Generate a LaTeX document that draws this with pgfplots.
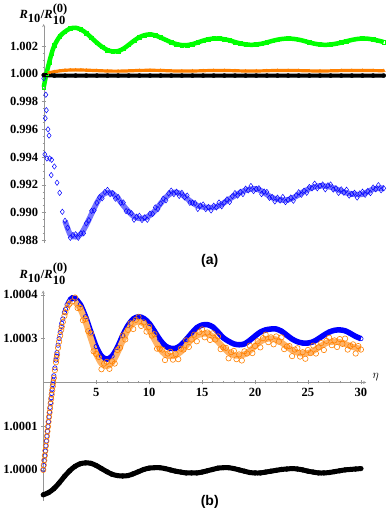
\documentclass[border=0pt]{standalone}
\usepackage{fontspec}
\setmainfont{Liberation Serif}
\setsansfont{Liberation Sans}
\usepackage{pgfplots}
\usepackage{pgfplotstable}
\pgfplotsset{compat=1.18}

\definecolor{mgreen}{RGB}{0,255,0}
\definecolor{morange}{RGB}{255,128,0}
\definecolor{mblue}{RGB}{0,0,255}
\definecolor{axgray}{RGB}{150,150,150}

% panel (a): y = (R10/R10^(0) - 1) * 1e3
\pgfplotstableread{
eta dR
0 -0.95
0.25 0.0
0.5 0.8
0.75 1.5
1.0 2.05
1.5 2.7
2.0 3.05
2.5 3.28
3.0 3.33
3.5 3.2
4.0 2.95
4.5 2.6
5.0 2.25
5.5 1.95
6.0 1.72
6.5 1.62
7.0 1.65
7.5 1.82
8.0 2.1
8.5 2.4
9.0 2.65
9.5 2.8
10.0 2.85
10.5 2.78
11.0 2.62
11.5 2.45
12.0 2.28
12.5 2.15
13.0 2.08
13.5 2.08
14.0 2.15
14.5 2.27
15.0 2.4
15.5 2.5
16.0 2.55
16.5 2.55
17.0 2.5
17.5 2.42
18.0 2.3
18.5 2.2
19.0 2.13
19.5 2.1
20.0 2.12
20.5 2.18
21.0 2.27
21.5 2.38
22.0 2.47
22.5 2.53
23.0 2.55
23.5 2.53
24.0 2.47
24.5 2.38
25.0 2.27
25.5 2.18
26.0 2.12
26.5 2.1
27.0 2.12
27.5 2.18
28.0 2.26
28.5 2.36
29.0 2.45
29.5 2.52
30.0 2.55
30.5 2.54
31.0 2.48
31.5 2.4
32.0 2.3
}\greenA

\pgfplotstableread{
eta dR
0 -0.05
0.5 0.08
1.0 0.16
1.5 0.22
2.0 0.26
2.5 0.28
3.0 0.29
3.5 0.28
4.0 0.27
5.0 0.24
6.0 0.21
7.0 0.2
8.0 0.22
9.0 0.25
10.0 0.26
11.0 0.25
12.0 0.22
13.0 0.21
14.0 0.21
15.0 0.23
16.0 0.25
17.0 0.25
18.0 0.23
19.0 0.21
20.0 0.21
21.0 0.23
22.0 0.25
23.0 0.25
24.0 0.24
25.0 0.22
26.0 0.21
27.0 0.22
28.0 0.24
29.0 0.25
30.0 0.25
31.0 0.24
32.0 0.23
}\orangeA

\pgfplotstableread{
eta dR
0 -0.08
1 -0.12
2 -0.13
3 -0.12
4 -0.12
5 -0.12
6 -0.12
7 -0.12
8 -0.12
9 -0.12
10 -0.12
11 -0.12
12 -0.12
13 -0.12
14 -0.12
15 -0.12
16 -0.12
17 -0.12
18 -0.12
19 -0.12
20 -0.12
21 -0.12
22 -0.12
23 -0.12
24 -0.12
25 -0.12
26 -0.12
27 -0.12
28 -0.12
29 -0.12
30 -0.12
31 -0.12
32 -0.12
}\blackA

\pgfplotstableread{
eta dR
0 -0.32
0.1 -5.8
0.15 -3.2
0.2 -1.5
0.25 -2.62
0.3 -6.1
0.4 -4.0
0.5 -4.45
0.55 -6.1
0.7 -7.3
0.75 -6.2
1.0 -6.68
1.25 -7.85
1.5 -8.58
1.75 -9.95
2.0 -10.6
2.25 -11.1
2.5 -11.82
2.75 -11.62
3.0 -11.57
3.25 -11.82
3.5 -11.5
3.75 -11.5
4.0 -10.78
4.25 -10.55
4.5 -9.88
4.75 -9.85
5.0 -9.3
5.25 -8.9
5.5 -8.97
5.75 -8.52
6.0 -8.37
6.25 -8.67
6.5 -8.6
6.75 -9.0
7.0 -8.88
7.25 -9.3
7.5 -9.28
7.75 -9.9
8.0 -9.95
8.25 -10.05
8.5 -10.52
8.75 -10.3
9.0 -10.24
9.25 -10.54
9.5 -10.35
9.75 -10.52
10.0 -10.08
10.25 -10.1
10.5 -9.63
10.75 -9.75
11.0 -9.35
11.25 -9.0
11.5 -9.12
11.75 -8.62
12.0 -8.42
12.25 -8.67
12.5 -8.5
12.75 -8.8
13.0 -8.58
13.25 -8.9
13.5 -8.78
13.75 -9.3
14.0 -9.3
14.25 -9.32
14.5 -9.74
14.75 -9.5
15.0 -9.42
15.25 -9.75
15.5 -9.6
15.75 -9.85
16.0 -9.51
16.25 -9.63
16.5 -9.28
16.75 -9.55
17.0 -9.28
17.25 -9.05
17.5 -9.24
17.75 -8.82
18.0 -8.6
18.25 -8.78
18.5 -8.51
18.75 -8.67
19.0 -8.28
19.25 -8.4
19.5 -8.09
19.75 -8.45
20.0 -8.3
20.25 -8.25
20.5 -8.67
20.75 -8.49
21.0 -8.52
21.25 -8.94
21.5 -8.88
21.75 -9.2
22.0 -8.93
22.25 -9.13
22.5 -8.88
22.75 -9.25
23.0 -9.08
23.25 -8.92
23.5 -9.15
23.75 -8.75
24.0 -8.54
24.25 -8.72
24.5 -8.43
24.75 -8.57
25.0 -8.16
25.25 -8.25
25.5 -7.92
25.75 -8.25
26.0 -8.08
26.25 -7.98
26.5 -8.32
26.75 -8.04
27.0 -7.98
27.25 -8.34
27.5 -8.25
27.75 -8.58
28.0 -8.33
28.25 -8.57
28.5 -8.36
28.75 -8.78
29.0 -8.66
29.25 -8.58
29.5 -8.92
29.75 -8.62
30.0 -8.5
30.25 -8.72
30.5 -8.45
30.75 -8.6
31.0 -8.2
31.25 -8.32
31.5 -8.03
31.75 -8.39
32.0 -8.25
}\blueA

% smooth centre of the blue band in (a)
\pgfplotstableread{
eta dR
2.0 -10.6
2.5 -11.6
3.0 -11.75
3.5 -11.55
4.0 -10.9
4.5 -10.1
5.0 -9.3
5.5 -8.75
6.0 -8.55
6.5 -8.65
7.0 -9.0
7.5 -9.5
8.0 -9.95
8.5 -10.3
9.0 -10.42
9.5 -10.4
10.0 -10.2
10.5 -9.85
11.0 -9.35
11.5 -8.9
12.0 -8.6
12.5 -8.55
13.0 -8.7
13.5 -9.0
14.0 -9.3
14.5 -9.52
15.0 -9.6
15.5 -9.65
16.0 -9.63
16.5 -9.5
17.0 -9.28
17.5 -9.02
18.0 -8.78
18.5 -8.56
19.0 -8.4
19.5 -8.31
20.0 -8.3
20.5 -8.45
21.0 -8.7
21.5 -8.93
22.0 -9.05
22.5 -9.1
23.0 -9.08
23.5 -8.93
24.0 -8.72
24.5 -8.48
25.0 -8.28
25.5 -8.14
26.0 -8.08
26.5 -8.1
27.0 -8.16
27.5 -8.3
28.0 -8.45
28.5 -8.58
29.0 -8.66
29.5 -8.7
30.0 -8.68
30.5 -8.5
31.0 -8.32
31.5 -8.25
32.0 -8.25
}\blueAc

% panel (b): y = (R10/R10^(0) - 1) * 1e4
\pgfplotstableread{
eta dR
0 0.0
0.05 0.11
0.1 0.22
0.15 0.33
0.2 0.44
0.25 0.55
0.3 0.66
0.35 0.77
0.4 0.88
0.45 0.99
0.5 1.1
0.55 1.21
0.6 1.31
0.65 1.41
0.7 1.52
0.75 1.62
0.8 1.72
0.85 1.82
0.9 1.91
0.95 2.0
1.0 2.1
1.1 2.28
1.2 2.46
1.25 2.55
1.3 2.63
1.4 2.79
1.5 2.93
1.6 3.07
1.7 3.2
1.75 3.27
1.85 3.38
2.0 3.52
2.1 3.6
2.25 3.7
2.4 3.77
2.5 3.8
2.75 3.85
3.0 3.94
3.25 3.70
3.5 3.71
3.75 3.42
4.0 3.45
4.25 3.17
4.5 3.12
4.75 2.71
5.0 2.65
5.25 2.58
5.5 2.30
5.75 2.43
6.0 2.47
6.25 2.31
6.5 2.48
6.75 2.43
7.0 2.74
7.25 2.79
7.5 3.07
7.75 2.98
8.0 3.2
8.25 3.35
8.5 3.22
8.75 3.43
9.0 3.49
9.25 3.29
9.5 3.37
9.75 3.16
10.0 3.27
10.25 3.07
10.5 3.10
10.75 2.77
11.0 2.77
11.25 2.75
11.5 2.51
11.75 2.66
12.0 2.70
12.25 2.52
12.5 2.65
12.75 2.53
13.0 2.77
13.25 2.75
13.5 2.96
13.75 2.81
14.0 2.98
14.25 3.09
14.5 2.94
14.75 3.15
15.0 3.21
15.25 3.03
15.5 3.14
15.75 2.97
16.0 3.12
16.25 2.98
16.5 3.05
16.75 2.76
17.0 2.8
17.25 2.79
17.5 2.55
17.75 2.69
18.0 2.72
18.25 2.53
18.5 2.64
18.75 2.50
19.0 2.71
19.25 2.66
19.5 2.84
19.75 2.67
20.0 2.83
20.25 2.94
20.5 2.80
20.75 3.01
21.0 3.09
21.25 2.92
21.5 3.03
21.75 2.87
22.0 3.05
22.25 2.93
22.5 3.03
22.75 2.76
23.0 2.82
23.25 2.83
23.5 2.60
23.75 2.75
24.0 2.78
24.25 2.59
24.5 2.69
24.75 2.54
25.0 2.74
25.25 2.67
25.5 2.84
25.75 2.66
26.0 2.8
26.25 2.90
26.5 2.74
26.75 2.95
27.0 3.02
27.25 2.85
27.5 2.96
27.75 2.81
28.0 2.99
28.25 2.88
28.5 3.00
28.75 2.75
29.0 2.83
29.25 2.87
29.5 2.66
29.75 2.83
30.0 2.75
}\orangeB

% smooth centre of the orange band in (b)
\pgfplotstableread{
eta dR
3.0 3.84
3.5 3.68
4.0 3.38
4.5 3.0
5.0 2.65
5.5 2.43
6.0 2.37
6.5 2.45
7.0 2.67
7.5 2.95
8.0 3.2
8.5 3.35
9.0 3.39
9.5 3.34
10.0 3.2
10.5 2.98
11.0 2.77
11.5 2.64
12.0 2.6
12.5 2.62
13.0 2.7
13.5 2.84
14.0 2.98
14.5 3.07
15.0 3.11
15.5 3.11
16.0 3.05
16.5 2.93
17.0 2.8
17.5 2.68
18.0 2.62
18.5 2.61
19.0 2.64
19.5 2.72
20.0 2.83
20.5 2.93
21.0 2.99
21.5 3.0
22.0 2.98
22.5 2.91
23.0 2.82
23.5 2.73
24.0 2.68
24.5 2.66
25.0 2.67
25.5 2.72
26.0 2.8
26.5 2.87
27.0 2.92
27.5 2.93
28.0 2.92
28.5 2.88
29.0 2.83
29.5 2.79
30.0 2.77
}\orangeBc

\pgfplotstableread{
eta dR
0 0.0
0.05 0.1
0.1 0.21
0.15 0.32
0.2 0.43
0.25 0.55
0.3 0.66
0.35 0.77
0.4 0.88
0.45 0.99
0.5 1.1
0.55 1.21
0.6 1.32
0.65 1.43
0.7 1.54
0.75 1.65
0.8 1.75
0.85 1.85
0.9 1.95
0.95 2.05
1.0 2.15
1.1 2.33
1.2 2.51
1.25 2.6
1.3 2.68
1.4 2.85
1.5 3.0
1.6 3.14
1.7 3.28
1.75 3.35
1.85 3.45
2.0 3.6
2.1 3.67
2.25 3.78
2.4 3.84
2.5 3.88
2.75 3.93
3.0 3.92
3.5 3.78
4.0 3.5
4.5 3.15
5.0 2.82
5.5 2.6
6.0 2.53
6.5 2.6
7.0 2.8
7.5 3.07
8.0 3.3
8.5 3.45
9.0 3.5
9.5 3.46
10.0 3.35
10.5 3.17
11.0 2.98
11.5 2.84
12.0 2.78
12.5 2.78
13.0 2.85
13.5 2.98
14.0 3.12
14.5 3.25
15.0 3.31
15.5 3.32
16.0 3.27
16.5 3.15
17.0 3.02
17.5 2.94
18.0 2.88
18.5 2.86
19.0 2.88
19.5 2.96
20.0 3.06
20.5 3.15
21.0 3.2
21.5 3.22
22.0 3.22
22.5 3.17
23.0 3.08
23.5 2.99
24.0 2.93
24.5 2.9
25.0 2.9
25.5 2.93
26.0 3.0
26.5 3.08
27.0 3.15
27.5 3.19
28.0 3.2
28.5 3.18
29.0 3.12
29.5 3.05
30.0 3.0
}\blueB

\pgfplotstableread{
eta dR
0 -0.57
0.5 -0.52
1.0 -0.43
1.5 -0.3
2.0 -0.15
2.5 -0.02
3.0 0.08
3.5 0.14
4.0 0.16
4.5 0.15
5.0 0.1
5.5 0.03
6.0 -0.04
6.5 -0.1
7.0 -0.13
7.5 -0.14
8.0 -0.13
8.5 -0.09
9.0 -0.04
9.5 0.01
10.0 0.04
10.5 0.05
11.0 0.05
11.5 0.03
12.0 0.0
12.5 -0.03
13.0 -0.05
13.5 -0.07
14.0 -0.07
14.5 -0.07
15.0 -0.05
15.5 -0.02
16.0 0.01
16.5 0.04
17.0 0.05
17.5 0.05
18.0 0.03
18.5 0.0
19.0 -0.03
19.5 -0.06
20.0 -0.07
20.5 -0.07
21.0 -0.05
21.5 -0.03
22.0 -0.01
22.5 0.01
23.0 0.02
23.5 0.03
24.0 0.02
24.5 0.0
25.0 -0.03
25.5 -0.05
26.0 -0.07
26.5 -0.07
27.0 -0.06
27.5 -0.04
28.0 -0.02
28.5 0.0
29.0 0.01
29.5 0.02
30.0 0.03
}\blackB

\pgfplotsset{
  mma/.style={
    scale only axis, clip=false,
    axis line style={axgray, -},
    tick style={axgray, thin},
    tick align=inside,
    major tick length=4pt, minor tick length=2.2pt,
    ticklabel style={font=\bfseries\fontsize{12.5}{13}\selectfont},
    /pgf/number format/assume math mode=true,
  }
}

\newcommand{\Rlabel}{\fontsize{12.5}{14}\selectfont$\textbf{\textit{R}}_{\textbf{10}}\textbf{/}\textbf{\textit{R}}_{\textbf{10}}^{\textbf{(0)}}$}

\begin{document}
\begin{tikzpicture}
\path (0pt,0pt) rectangle (382pt,-513pt);

\begin{axis}[mma,
  at={(40pt,-24pt)}, anchor=north west,
  width=340pt, height=219pt,
  xmin=0, xmax=32, ymin=-12.2, ymax=3.6,
  axis x line=none, axis y line=left,
  ytick={-12,-10,-8,-6,-4,-2,0,2},
  yticklabels={0.988,0.990,0.992,0.994,0.996,0.998,1.000,1.002},
  minor y tick num=3,
]
\addplot[mblue!55, line width=5.5pt, smooth, no marks] table {\blueAc};
\addplot[only marks, mblue, mark=diamond, mark size=2.7pt, mark options={line width=0.5pt}] table {\blueA};
\addplot[mgreen, line width=4.5pt, smooth, mark=square, mark size=1.8pt, mark options={line width=0.6pt}] table {\greenA};
\addplot[morange, line width=3.2pt, smooth, mark=triangle*, mark size=1.8pt, mark options={line width=0.3pt}] table {\orangeA};
\addplot[black, line width=4pt, mark=*, mark size=2.1pt, mark options={line width=0.3pt}] table {\blackA};
\end{axis}

\begin{axis}[mma,
  at={(39.5pt,-290.5pt)}, anchor=north west,
  width=323pt, height=210pt,
  xmin=0, xmax=30.5, ymin=-2.7, ymax=2.1,
  axis lines=middle,
  y filter/.expression={y-2},
  xtick={5,10,...,30},
  ytick={-2,-1,1,2},
  yticklabels={1.0000,1.0001,1.0003,1.0004},
  minor x tick num=4, minor y tick num=4,
]
\addplot[mblue, line width=5.5pt, smooth, no marks, restrict x to domain=2.5:30] table {\blueB};
\addplot[only marks, mblue, mark=o, mark size=2.2pt, mark options={line width=0.6pt}] table {\blueB};
\addplot[morange!60, line width=6pt, smooth, no marks] table {\orangeBc};
\addplot[only marks, morange, mark=o, mark size=2.7pt, mark options={line width=0.6pt}] table {\orangeB};
\addplot[black, line width=5pt, smooth, mark=*, mark size=2.4pt, mark options={line width=0.3pt}] table {\blackB};
\end{axis}

\node at (40pt,-14pt) {\Rlabel};
\node at (40pt,-274pt) {\Rlabel};
\node at (372pt,-377pt) {\fontsize{13}{14}\selectfont$\eta$};
\node[font=\sffamily\bfseries\fontsize{14}{16}\selectfont] at (206pt,-261pt) {(a)};
\node[font=\sffamily\bfseries\fontsize{14}{16}\selectfont] at (206pt,-502pt) {(b)};
\end{tikzpicture}
\end{document}
